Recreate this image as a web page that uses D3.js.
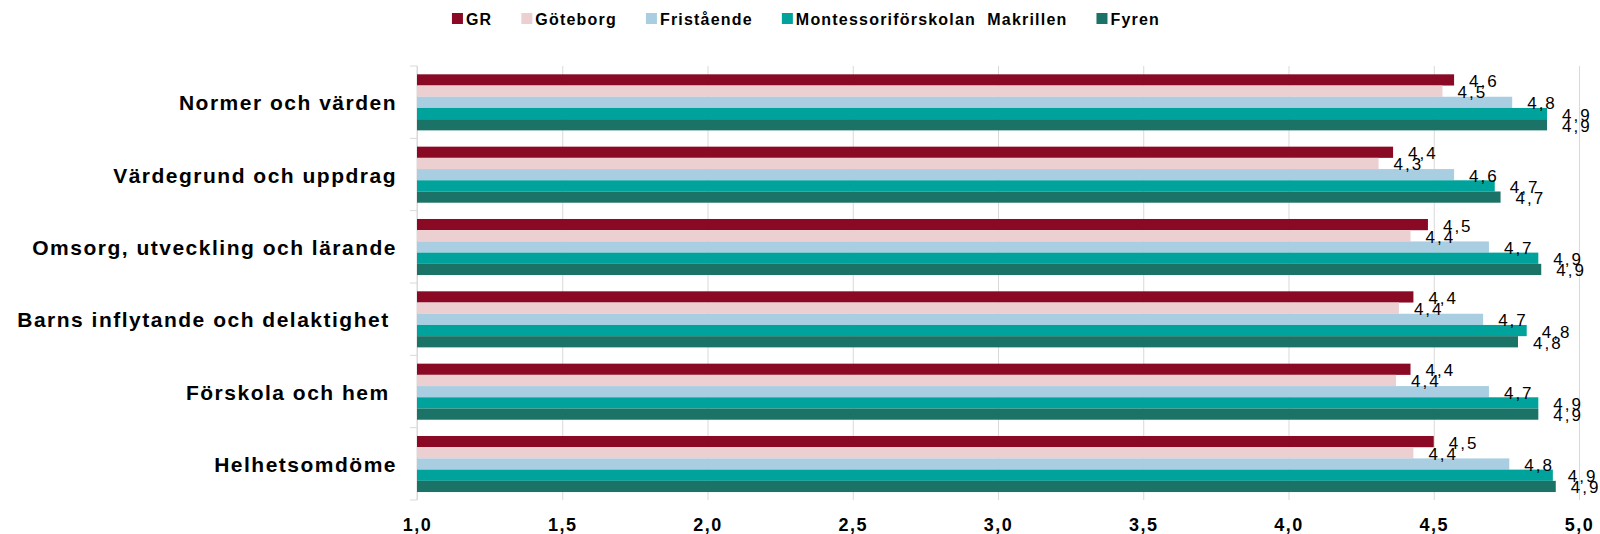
<!DOCTYPE html>
<html>
<head>
<meta charset="utf-8">
<script src="https://cdn.jsdelivr.net/npm/d3@7"></script>
<style>
  body { margin: 0; background: #fff; }
  svg text { font-family: "Liberation Sans", Arial, sans-serif; fill: #000; }
</style>
</head>
<body>
<div id="chart"></div>
<script>
// chart data
const categories = [
    "Normer och värden",
    "Värdegrund och uppdrag",
    "Omsorg, utveckling och lärande",
    "Barns inflytande och delaktighet ",
    "Förskola och hem ",
    "Helhetsomdöme"
]
const seriesNames = ["GR", "Göteborg", "Fristående", "Montessoriförskolan  Makrillen", "Fyren"]
const grValues = [4.57, 4.36, 4.48, 4.43, 4.42, 4.50]
const goteborgValues = [4.53, 4.31, 4.42, 4.38, 4.37, 4.43]
const fristaendeValues = [4.77, 4.57, 4.69, 4.67, 4.69, 4.76]
const makrillenValues = [4.89, 4.71, 4.86, 4.82, 4.86, 4.91]
const fyrenValues = [4.89, 4.73, 4.87, 4.79, 4.86, 4.92]
const xTicks = [1.0, 1.5, 2.0, 2.5, 3.0, 3.5, 4.0, 4.5, 5.0]
const seriesColors = ["#8a0a25", "#ebcfd1", "#a9cee1", "#00a39b", "#1b7266"]

const allValues = [grValues, goteborgValues, fristaendeValues, makrillenValues, fyrenValues]

const width = 1600, height = 534
const margin = {top: 66, right: 21, bottom: 34, left: 417}

const svg = d3.select("#chart").append("svg")
    .attr("width", width)
    .attr("height", height)

const x = d3.scaleLinear()
    .domain([1, 5])
    .range([margin.left, width - margin.right])

const y0 = d3.scaleBand()
    .domain(categories)
    .range([margin.top, height - margin.bottom])

const y1 = d3.scaleBand()
    .domain(seriesNames)
    .range([y0.bandwidth() * 0.115, y0.bandwidth() * 0.89])

const color = d3.scaleOrdinal().domain(seriesNames).range(seriesColors)
const fmt = d => d3.format(".1f")(d).replace(".", ",")

// gridlines + x tick labels
const xAxis = svg.append("g")
    .attr("transform", "translate(0," + (height - margin.bottom) + ")")
    .call(d3.axisBottom(x)
        .tickValues(xTicks)
        .tickSize(-(height - margin.bottom - margin.top))
        .tickPadding(18)
        .tickFormat(fmt))
xAxis.select(".domain").remove()
xAxis.selectAll(".tick line").attr("stroke", "#d9d9d9")
xAxis.selectAll(".tick text")
    .style("font-family", "'Liberation Sans', Arial, sans-serif")
    .style("font-size", "18px")
    .style("font-weight", "bold")
    .style("letter-spacing", "1.5px")
    .attr("fill", "#000")

// category axis
const yAxis = svg.append("g")
yAxis.append("line")
    .attr("x1", x(1)).attr("x2", x(1))
    .attr("y1", margin.top).attr("y2", height - margin.bottom)
    .attr("stroke", "#d9d9d9")
yAxis.selectAll(".cat-tick")
    .data(categories.map(c => y0(c)).concat([height - margin.bottom]))
    .enter().append("line")
    .attr("x1", x(1) - 7).attr("x2", x(1))
    .attr("y1", d => d).attr("y2", d => d)
    .attr("stroke", "#d9d9d9")

yAxis.selectAll(".cat-label")
    .data(categories)
    .enter().append("text")
    .attr("xml:space", "preserve")
    .style("white-space", "pre")
    .attr("x", 397)
    .attr("y", d => y0(d) + y0.bandwidth() / 2 + 8)
    .attr("text-anchor", "end")
    .style("font-size", "21px")
    .style("font-weight", "bold")
    .style("letter-spacing", "1.5px")
    .text(d => d)

// bars
const rows = []
categories.forEach(function (c, i) {
    seriesNames.forEach(function (s, j) {
        rows.push({cat: c, series: s, value: allValues[j][i]})
    })
})

const group = svg.append("g")
group.selectAll("rect")
    .data(rows)
    .enter().append("rect")
    .attr("x", x(1))
    .attr("y", d => y0(d.cat) + y1(d.series))
    .attr("width", d => x(d.value) - x(1))
    .attr("height", y1.bandwidth())
    .attr("fill", d => color(d.series))

group.selectAll(".value-label")
    .data(rows)
    .enter().append("text")
    .attr("class", "value-label")
    .attr("x", d => x(d.value) + 15)
    .attr("y", d => y0(d.cat) + y1(d.series) + y1.bandwidth() / 2 + 7)
    .style("font-size", "17px")
    .style("letter-spacing", "2px")
    .text(d => fmt(d.value))

// legend
const legend = svg.append("g")
const items = legend.selectAll(".legends")
    .data(seriesNames)
    .enter().append("g")
    .attr("class", "legends")

items.append("rect")
    .attr("x", 0)
    .attr("y", 13)
    .attr("width", 11)
    .attr("height", 11)
    .style("fill", d => color(d))

items.append("text")
    .attr("xml:space", "preserve")
    .style("white-space", "pre")
    .attr("x", 14)
    .attr("y", 25)
    .style("font-size", "16px")
    .style("font-weight", "bold")
    .style("letter-spacing", "1.2px")
    .text(d => d)

let xOff = 0
items.each(function () {
    const w = d3.select(this).select("text").node().getComputedTextLength()
    d3.select(this).attr("transform", "translate(" + xOff + ",0)")
    xOff += 14 + w + 29
})
const legendWidth = xOff - 29
legend.attr("transform", "translate(" + (806 - legendWidth / 2) + ",0)")
</script>
</body>
</html>
